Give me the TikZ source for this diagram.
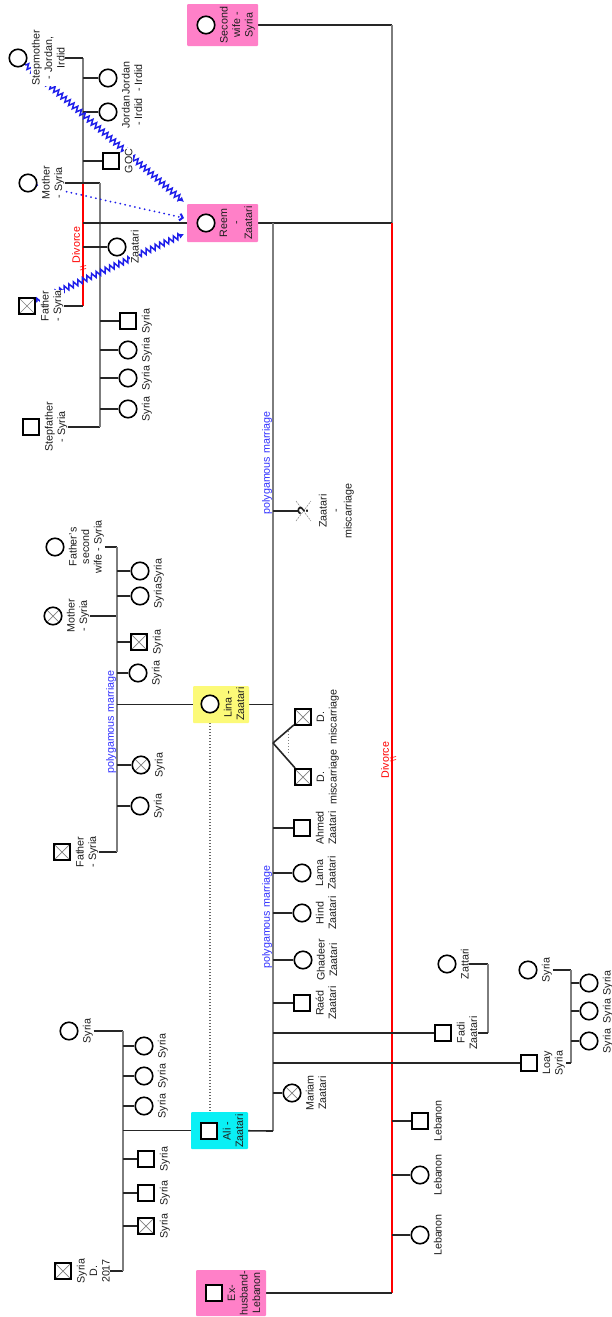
\documentclass[tikz,border=0pt]{standalone}
\usepackage{fontspec}
\setmainfont{Liberation Sans}
\usetikzlibrary{arrows.meta,decorations.pathmorphing,calc}
\pgfdeclarelayer{bg}
\pgfsetlayers{bg,main}
\definecolor{relblue}{RGB}{30,30,235}
\definecolor{txtblue}{RGB}{50,50,255}
\definecolor{boxpink}{RGB}{255,128,200}
\definecolor{boxcyan}{RGB}{10,240,245}
\definecolor{boxyellow}{RGB}{252,250,120}
\definecolor{ink}{RGB}{30,30,30}
\definecolor{vgray}{RGB}{125,125,125}
\newcommand\lblfont{\fontsize{10.7}{12.5}\selectfont}
\tikzset{
  sym/.style={draw=black, line width=1.6pt, fill=white, inner sep=0pt},
  fem/.style={sym, circle, minimum size=17.5pt},
  mal/.style={sym, rectangle, minimum size=16.5pt},
  dead/.style={path picture={\draw[gray, line width=0.7pt] (path picture bounding box.north west) -- (path picture bounding box.south east) (path picture bounding box.north east) -- (path picture bounding box.south west);}},
  lbl/.style={rotate=90, anchor=north, align=center, inner sep=0.6pt, fill=white, text=ink, font=\lblfont},
  blbl/.style={lbl, fill=none},
  pbox/.style={draw=none, inner sep=0pt, rounded corners=1pt},
  hline/.style={draw=black!85, line width=1.6pt},
  vline/.style={draw=vgray, line width=1.6pt},
  redline/.style={draw=red, line width=1.5pt},
  polytxt/.style={rotate=90, text=txtblue, font=\lblfont, inner sep=0pt},
  divtxt/.style={rotate=90, text=red, font=\lblfont, inner sep=0pt},
  hostile/.style={draw=relblue, line width=1.5pt, decorate, decoration={zigzag, segment length=5pt, amplitude=2.7pt, pre length=1pt, post length=4pt}, -{Latex[length=5pt,width=5.5pt]}},
  distant/.style={draw=relblue, line width=2pt, line cap=round, dash pattern=on 0pt off 5pt, -{Straight Barb[length=3pt,width=7pt]}},
  twinline/.style={draw=gray, line width=0.8pt, dash pattern=on 1pt off 2pt},
  linkdot/.style={draw=gray!80!black, line width=1.3pt, dash pattern=on 1pt off 2pt}
}
\newcommand\person[5]{\node[#2] (#1) at (#3,#4) {}; \node[lbl] (#1-l) at (#3+13,#4) {#5};}
\begin{document}
\begin{tikzpicture}[x=1pt,y=-1pt]
\useasboundingbox (0,0) rectangle (611,1317);
\begin{pgfonlayer}{bg}
\fill[white] (0,0) rectangle (611,1317);
\end{pgfonlayer}

% ---------- boxed persons ----------
\node[pbox, fill=boxpink, minimum width=71pt, minimum height=42pt] (swbox) at (222.5,25) {};
\node[fem] (sw) at (206,25) {};
\node[blbl] (sw-l) at (219,25) {Second\\wife -\\Syria};

\node[pbox, fill=boxpink, minimum width=71pt, minimum height=38pt] (reembox) at (222.5,223) {};
\node[fem] (reem) at (206,223) {};
\node[blbl] (reem-l) at (219,223) {Reem\\-\\Zaatari};

\node[pbox, fill=boxyellow, minimum width=56pt, minimum height=37pt] (linabox) at (221,704.5) {};
\node[fem] (lina) at (210,704) {};
\node[blbl] (lina-l) at (223,704) {Lina -\\Zaatari};

\node[pbox, fill=boxcyan, minimum width=57pt, minimum height=37pt] (alibox) at (219.5,1130.5) {};
\node[mal] (ali) at (209,1131) {};
\node[blbl] (ali-l) at (222,1131) {Ali -\\Zaatari};

\node[pbox, fill=boxpink, minimum width=70pt, minimum height=46pt] (exbox) at (231,1293) {};
\node[mal] (ex) at (214,1293) {};
\node[blbl] (ex-l) at (227,1293) {Ex-\\husband-\\Lebanon};

% ---------- Reem's family of origin ----------
\person{smom}{fem}{18}{58}{Stepmother\\- Jordan,\\Irdid}
\person{mom1}{fem}{28}{183}{Mother\\- Syria}
\person{dad1}{mal,dead}{27}{306}{Father\\- Syria}
\person{sdad}{mal}{31}{427}{Stepfather\\- Syria}
\person{jor1}{fem}{108}{78}{Jordan\\- Irdid}
\person{jor2}{fem}{108}{112}{Jordan\\- Irdid}
\person{goc}{mal}{111}{161}{GOC}
\person{zaa}{fem}{117}{247}{Zaatari}
\person{s1}{mal}{128}{321}{Syria}
\person{s2}{fem}{128}{350}{Syria}
\person{s3}{fem}{128}{378}{Syria}
\person{s4}{fem}{128}{409}{Syria}

% ---------- Lina's family of origin ----------
\person{fsw}{fem}{55}{547}{Father's\\second\\wife - Syria}
\person{mom2}{fem,dead}{53}{616}{Mother\\- Syria}
\person{dad2}{mal,dead}{62}{852}{Father\\- Syria}
\person{c1}{fem}{140}{571}{Syria}
\person{c2}{fem}{140}{596}{Syria}
\person{c3}{mal,dead}{139}{642}{Syria}
\person{c4}{fem}{138}{673}{Syria}
\person{c5}{fem,dead}{141}{765}{Syria}
\person{c6}{fem}{140}{806}{Syria}

% ---------- Ali's family of origin ----------
\person{amom}{fem}{69}{1031}{Syria}
\person{adad}{mal,dead}{63}{1271}{Syria\\D.\\2017}
\person{a1}{fem}{144}{1046}{Syria}
\person{a2}{fem}{144}{1076}{Syria}
\person{a3}{fem}{144}{1106}{Syria}
\person{a4}{mal}{146}{1159}{Syria}
\person{a5}{mal}{146}{1193}{Syria}
\person{a6}{mal,dead}{146}{1226}{Syria}

% ---------- Ali's children ----------
\node[rotate=90, inner sep=0pt, text=ink, font=\fontsize{15}{15}\selectfont\bfseries] (mis) at (303,511) {?};
\node[lbl] (mis-l) at (318,511) {Zaatari\\-\\miscarriage};
\person{tw1}{mal,dead}{303}{717}{D.\\miscarriage}
\person{tw2}{mal,dead}{303}{777}{D.\\miscarriage}
\person{ahmed}{mal}{302}{828}{Ahmed\\Zaatari}
\person{lama}{fem}{302}{873}{Lama\\Zaatari}
\person{hind}{fem}{302}{913}{Hind\\Zaatari}
\person{ghadeer}{fem}{303}{960}{Ghadeer\\Zaatari}
\person{raed}{mal}{302}{1003}{Raéd\\Zaatari}
\person{fadi}{mal}{443}{1033}{Fadi\\Zaatari}
\person{loay}{mal}{529}{1063}{Loay\\Syria}
\person{mariam}{fem,dead}{292}{1093}{Mariam\\Zaatari}
\person{zat}{fem}{447}{964}{Zattari}
\person{lw}{fem}{528}{970}{Syria}
\person{l1}{fem}{589}{983}{Syria}
\person{l2}{fem}{589}{1011}{Syria}
\person{l3}{fem}{589}{1041}{Syria}

% ---------- Ex-husband's children ----------
\person{lb1}{mal}{420}{1121}{Lebanon}
\person{lb2}{fem}{420}{1175}{Lebanon}
\person{lb3}{fem}{420}{1235}{Lebanon}

% ---------- texts on lines ----------
\node[divtxt] (div1) at (76,245) {Divorce};
\node[divtxt] (div2) at (385,760) {Divorce};
\node[polytxt] (poly1) at (111,722) {polygamous marriage};
\node[polytxt] (poly2) at (267,463) {polygamous marriage};
\node[polytxt] (poly3) at (267,917) {polygamous marriage};

% ---------- junction coordinates ----------
\coordinate (vAt) at (83,58);
\coordinate (vAm) at (83,183);
\coordinate (vAb) at (83,306);
\coordinate (vBt) at (100,183);
\coordinate (vBb) at (100,427);
\coordinate (vCt) at (117,547);
\coordinate (vCb) at (117,852);
\coordinate (vDt) at (123,1031);
\coordinate (vDb) at (123,1271);
\coordinate (vEt) at (273,223);
\coordinate (vEb) at (273,1131);
\coordinate (r1) at (392,25);
\coordinate (r2) at (392,223);
\coordinate (r3) at (392,1293);
\coordinate (tw) at (273,743);
\coordinate (fz1) at (488,964);
\coordinate (fz2) at (488,1033);
\coordinate (lz1) at (571,970);
\coordinate (lz2) at (571,1063);
\coordinate (ra1) at (184,202);
\coordinate (ra2) at (184,218);
\coordinate (ra3) at (184,234);

\begin{pgfonlayer}{bg}
% Reem's parents
\draw[vline] (vAt) -- (vAb);
\draw[redline] (vAm) -- (vAb);
\draw[hline] (smom-l.south) -- (vAt);
\draw[hline] (dad1-l.south) -- (vAb);
\draw[hline] (mom1-l.south) -- (vBt);
\draw[hline] (sdad-l.south) -- (vBb);
\draw[vline] (vBt) -- (vBb);
\foreach \n in {jor1,jor2,goc,zaa} \draw[hline] (\n) -- (\n -| vAt);
\draw[hline] (reembox) -- (reembox -| vAt);
\foreach \n in {s1,s2,s3,s4} \draw[hline] (\n) -- (\n -| vBt);
\draw[red, line width=0.6pt] (80,267) -- (86,265.5) (80,270) -- (86,268.5);

% relationships to Reem
\draw[hostile] (smom) -- (ra1);
\draw[distant] (mom1) -- (ra2);
\draw[hostile] (dad1) -- (ra3);

% Reem, second wife, ex-husband
\draw[hline] (swbox) -- (r1);
\draw[vline] (r1) -- (r2);
\draw[hline] (reembox) -- (r2);
\draw[redline] (r2) -- (r3);
\draw[hline] (exbox) -- (r3);
\foreach \n in {lb1,lb2,lb3} \draw[hline] (\n) -- (\n -| r2);
\draw[red, line width=0.6pt] (390,758) -- (396,756.5) (390,761) -- (396,759.5);

% Lina's parents
\draw[hline] (fsw-l.south) -- (vCt);
\draw[hline] (mom2-l.south) -- (mom2-l.south -| vCt);
\draw[hline] (dad2-l.south) -- (vCb);
\draw[vline] (vCt) -- (vCb);
\draw[hline] (linabox) -- (linabox -| vCt);
\foreach \n in {c1,c2,c3,c4,c5,c6} \draw[hline] (\n) -- (\n -| vCt);

% Ali's parents
\draw[hline] (amom-l.south) -- (vDt);
\draw[hline] (adad-l.south) -- (vDb);
\draw[vline] (vDt) -- (vDb);
\draw[hline] (alibox) -- (alibox -| vDt);
\foreach \n in {a1,a2,a3,a4,a5,a6} \draw[hline] (\n) -- (\n -| vDt);

% Ali's marriages
\draw[vline] (vEt) -- (vEb);
\draw[hline] (alibox) -- (vEb);
\draw[hline] (linabox) -- (linabox -| vEt);
\draw[linkdot] (linabox.south -| lina) -- (alibox.north -| lina);
\foreach \n in {mis,ahmed,lama,hind,ghadeer,raed,fadi,loay,mariam} \draw[hline] (\n) -- (\n -| vEt);
\draw[hline] (tw) -- (tw1);
\draw[hline] (tw) -- (tw2);
\draw[twinline] (288,731) -- (288,755);
\draw[gray, line width=0.5pt, dash pattern=on 2pt off 1pt] ($(mis)+(-7,-10)$) -- ($(mis)+(8,10)$) ($(mis)+(-7,10)$) -- ($(mis)+(8,-10)$);

% Fadi and Loay families
\draw[hline] (zat-l.south) -- (fz1);
\draw[vline] (fz1) -- (fz2);
\draw[hline] (fz2) -- (fadi-l.south);
\draw[hline] (lw-l.south) -- (lz1);
\draw[vline] (lz1) -- (lz2);
\draw[hline] (lz2) -- (loay-l.south);
\foreach \n in {l1,l2,l3} \draw[hline] (\n) -- (\n -| lz1);
\end{pgfonlayer}
\end{tikzpicture}
\end{document}
